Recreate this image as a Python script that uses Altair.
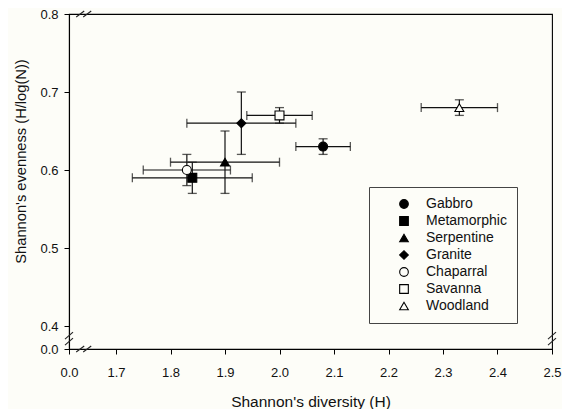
import altair as alt
import pandas as pd

BG = "#fdfdf8"
FONT = "Liberation Sans"

types = ["Gabbro", "Metamorphic", "Serpentine", "Granite", "Chaparral", "Savanna", "Woodland"]
h_mean = [2.08, 1.84, 1.90, 1.93, 1.83, 2.00, 2.33]
h_err = [0.05, 0.11, 0.10, 0.10, 0.08, 0.06, 0.07]
e_mean = [0.63, 0.59, 0.61, 0.66, 0.60, 0.67, 0.68]
e_err = [0.01, 0.02, 0.04, 0.04, 0.02, 0.01, 0.01]
shapes = ["circle", "square", "triangle-up", "diamond", "circle", "square", "triangle-up"]
fills = ["#000000", "#000000", "#000000", "#000000", BG, BG, BG]
strokes = ["#000000"] * 7

x_ticks = [0.0, 1.7, 1.8, 1.9, 2.0, 2.1, 2.2, 2.3, 2.4, 2.5]
y_ticks = [0.0, 0.4, 0.5, 0.6, 0.7, 0.8]
x_break = [0.0, 1.7, 2.5]
y_break = [0.0, 0.4, 0.8]

df = pd.DataFrame({
    "Type": types,
    "h": h_mean,
    "e": e_mean,
    "h_lo": [m - s for m, s in zip(h_mean, h_err)],
    "h_hi": [m + s for m, s in zip(h_mean, h_err)],
    "e_lo": [m - s for m, s in zip(e_mean, e_err)],
    "e_hi": [m + s for m, s in zip(e_mean, e_err)],
})

# break-mark positions (in data units, inside the compressed segments)
hbreak = pd.DataFrame({"bx": [0.55, 0.55], "by": [0.0, 0.8]})
vbreak = pd.DataFrame({"bx": [0.0, 2.5], "by": [0.19, 0.19]})

W, H = 483, 335
x_scale = alt.Scale(domain=x_break, range=[0, 47, W], nice=False, zero=False)
y_scale = alt.Scale(domain=y_break, range=[H, 312, 0], nice=False, zero=False)

x_axis = alt.Axis(values=x_ticks, format=".1f", title="Shannon's diversity (H)",
                  labelPadding=12, titlePadding=15, titleFontSize=15.5, labelFlush=False)
y_axis = alt.Axis(values=y_ticks, format=".1f", title="Shannon's evenness (H/log(N))",
                  labelPadding=6, titlePadding=11, titleFontSize=14.7, titleY=147)


def X(field):
    return alt.X(field, type="quantitative", scale=x_scale, axis=x_axis)


def Y(field):
    return alt.Y(field, type="quantitative", scale=y_scale, axis=y_axis)


base = alt.Chart(df)

hbar = base.mark_rule(color="#111", strokeWidth=1.2).encode(
    x=X("h_lo"), x2="h_hi", y=Y("e"))
vbar = base.mark_rule(color="#111", strokeWidth=1.2).encode(
    x=X("h"), y=Y("e_lo"), y2="e_hi")

cap_l = base.mark_tick(color="#111", orient="vertical", size=9, thickness=1.3).encode(
    x=X("h_lo"), y=Y("e"))
cap_r = base.mark_tick(color="#111", orient="vertical", size=9, thickness=1.3).encode(
    x=X("h_hi"), y=Y("e"))
cap_b = base.mark_tick(color="#111", orient="horizontal", size=9, thickness=1.3).encode(
    x=X("h"), y=Y("e_lo"))
cap_t = base.mark_tick(color="#111", orient="horizontal", size=9, thickness=1.3).encode(
    x=X("h"), y=Y("e_hi"))

legend = alt.Legend(title=None, orient="none", legendX=300, legendY=173,
                    padding=10, symbolOffset=18, labelOffset=15,
                    rowPadding=3, symbolSize=75,
                    symbolStrokeColor="#000", symbolStrokeWidth=1.1,
                    labelFontSize=14, labelFont=FONT, labelColor="#111",
                    strokeColor="#444", fillColor=BG, labelLimit=200)

points = base.mark_point(filled=False, size=80, strokeWidth=1.1, opacity=1).encode(
    x=X("h"),
    y=Y("e"),
    stroke=alt.Stroke("Type:N", scale=alt.Scale(domain=types, range=strokes), legend=legend),
    shape=alt.Shape("Type:N", scale=alt.Scale(domain=types, range=shapes), legend=legend),
    fill=alt.Fill("Type:N", scale=alt.Scale(domain=types, range=fills), legend=legend),
)


def slashes(data, dx1, dx2, dy1, dy2):
    return alt.Chart(data).mark_rule(color="#222", strokeWidth=1.1,
                                     xOffset=dx1, x2Offset=dx2,
                                     yOffset=dy1, y2Offset=dy2).encode(
        x=X("bx"), x2="bx", y=Y("by"), y2="by")


brk = [
    slashes(hbreak, -8, 0, 3, -3),
    slashes(hbreak, -1, 7, 3, -3),
    slashes(vbreak, -4, 4, 1, -6),
    slashes(vbreak, -4, 4, 7, 0),
]

chart = alt.layer(hbar, vbar, cap_l, cap_r, cap_b, cap_t, *brk, points).properties(
    width=W, height=H, background=BG,
    padding={"left": 5, "top": 0, "right": 0, "bottom": 0},
).configure_view(
    stroke="#000", strokeWidth=1.1
).configure_axis(
    grid=False, domainColor="#000", tickColor="#000", tickSize=5, domainWidth=1.1,
    labelFont=FONT, titleFont=FONT, labelFontSize=13,
    labelColor="#111", titleColor="#111", titleFontWeight="normal",
)

chart.save("out.html", embed_options={"renderer": "svg", "actions": False})
